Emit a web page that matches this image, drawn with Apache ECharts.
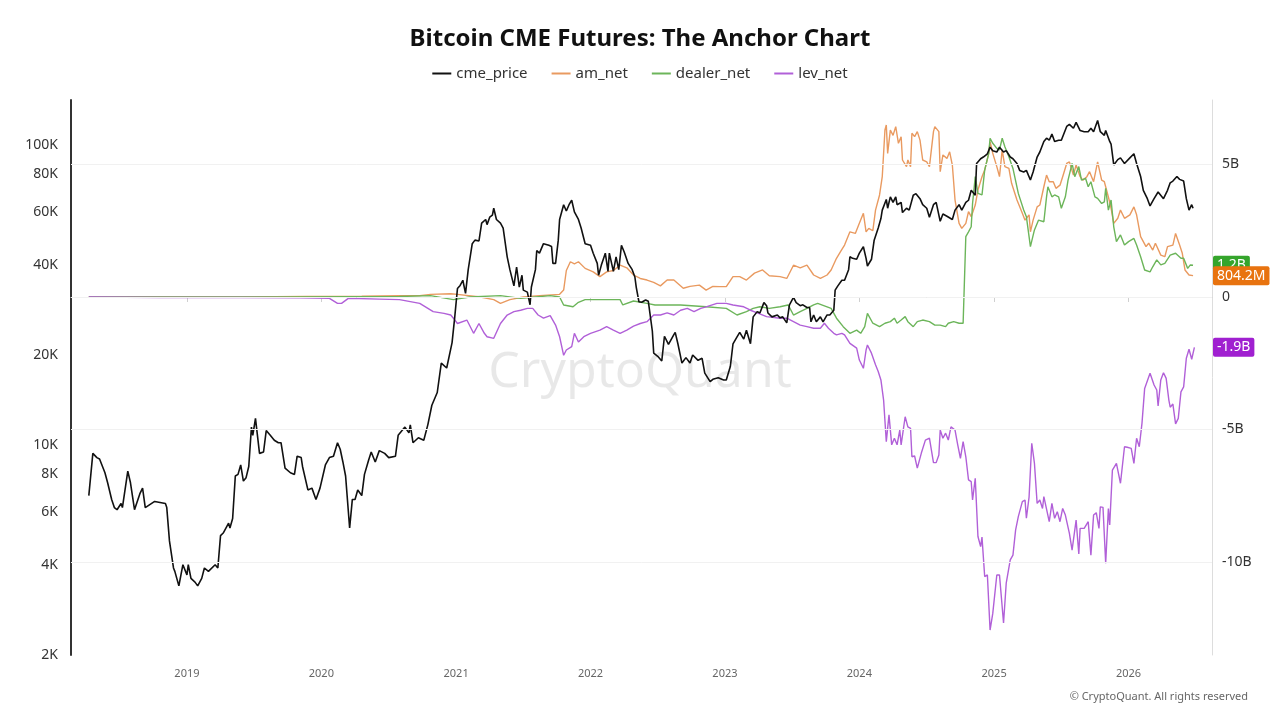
<!DOCTYPE html>
<html>
<head>
<meta charset="utf-8">
<script src="https://cdn.jsdelivr.net/npm/echarts@6/dist/echarts.min.js"></script>
<style>html,body{margin:0;padding:0;background:#fff}#chart{width:1280px;height:720px}</style>
</head>
<body>
<div id="chart"></div>
<script>
// ---- data (times in decimal years) ----
const priceDates = [
2018.27,2018.30,2018.33,2018.35,2018.39,2018.41,2018.44,2018.46,2018.48,2018.51,
2018.52,2018.56,2018.58,2018.61,2018.65,2018.67,2018.69,2018.76,2018.80,2018.84,
2018.85,2018.87,2018.90,2018.91,2018.94,2018.97,2019.00,2019.01,2019.03,2019.06,
2019.08,2019.11,2019.13,2019.16,2019.21,2019.23,2019.25,2019.27,2019.31,2019.32,
2019.34,2019.36,2019.38,2019.40,2019.42,2019.44,2019.46,2019.48,2019.49,2019.51,
2019.54,2019.57,2019.59,2019.62,2019.65,2019.68,2019.70,2019.73,2019.77,2019.80,
2019.82,2019.85,2019.86,2019.90,2019.93,2019.96,2019.99,2020.03,2020.06,2020.09,
2020.12,2020.14,2020.16,2020.18,2020.21,2020.23,2020.25,2020.27,2020.30,2020.32,
2020.35,2020.37,2020.40,2020.43,2020.47,2020.50,2020.55,2020.57,2020.62,2020.65,
2020.66,2020.68,2020.72,2020.76,2020.79,2020.82,2020.86,2020.89,2020.93,2020.97,
2020.99,2021.01,2021.03,2021.05,2021.07,2021.09,2021.12,2021.14,2021.17,2021.19,
2021.22,2021.23,2021.25,2021.27,2021.28,2021.30,2021.33,2021.35,2021.38,2021.40,
2021.43,2021.45,2021.47,2021.49,2021.50,2021.53,2021.55,2021.56,2021.59,2021.60,
2021.62,2021.65,2021.69,2021.71,2021.72,2021.74,2021.76,2021.77,2021.80,2021.82,
2021.84,2021.86,2021.88,2021.91,2021.93,2021.96,2022.00,2022.02,2022.05,2022.06,
2022.08,2022.11,2022.13,2022.14,2022.17,2022.19,2022.21,2022.23,2022.25,2022.28,
2022.31,2022.33,2022.34,2022.36,2022.38,2022.41,2022.43,2022.46,2022.47,2022.50,
2022.53,2022.55,2022.58,2022.62,2022.63,2022.65,2022.68,2022.71,2022.74,2022.76,
2022.80,2022.83,2022.85,2022.89,2022.91,2022.95,2022.99,2023.01,2023.04,2023.06,
2023.09,2023.11,2023.14,2023.16,2023.19,2023.21,2023.24,2023.26,2023.29,2023.31,
2023.32,2023.35,2023.39,2023.41,2023.43,2023.46,2023.48,2023.51,2023.53,2023.56,
2023.58,2023.61,2023.63,2023.64,2023.66,2023.68,2023.71,2023.73,2023.76,2023.78,
2023.81,2023.82,2023.84,2023.87,2023.89,2023.92,2023.93,2023.95,2023.98,2024.00,
2024.03,2024.05,2024.06,2024.09,2024.11,2024.14,2024.16,2024.17,2024.20,2024.21,
2024.23,2024.25,2024.27,2024.28,2024.31,2024.32,2024.35,2024.37,2024.40,2024.42,
2024.45,2024.47,2024.50,2024.52,2024.55,2024.57,2024.60,2024.62,2024.65,2024.69,
2024.71,2024.74,2024.76,2024.79,2024.81,2024.83,2024.86,2024.87,2024.90,2024.92,
2024.95,2024.97,2024.99,2025.02,2025.04,2025.07,2025.09,2025.12,2025.14,2025.17,
2025.19,2025.22,2025.24,2025.27,2025.29,2025.32,2025.34,2025.37,2025.39,2025.41,
2025.43,2025.45,2025.48,2025.50,2025.54,2025.56,2025.59,2025.61,2025.64,2025.67,
2025.70,2025.72,2025.74,2025.77,2025.79,2025.82,2025.83,2025.86,2025.87,2025.89,
2025.92,2025.94,2025.97,2026.01,2026.04,2026.06,2026.09,2026.11,2026.14,2026.16,
2026.19,2026.22,2026.26,2026.29,2026.31,2026.33,2026.36,2026.38,2026.41,2026.43,
2026.45,2026.47,2026.48
];
// cme_price, thousands of USD
const priceValues = [
6.8,9.4,9.1,9.0,8.1,7.5,6.6,6.2,6.1,6.4,
6.2,8.2,7.5,6.1,6.9,7.2,6.2,6.5,6.45,6.4,
6.2,4.8,3.9,3.8,3.4,4.0,3.7,4.0,3.6,3.5,
3.4,3.6,3.9,3.8,4.0,3.9,5.0,5.1,5.5,5.3,
5.7,7.9,8.0,8.6,7.6,7.8,8.5,11.5,10.8,12.3,
9.4,9.5,11.2,10.8,10.4,10.2,10.2,8.4,8.1,8.0,
9.2,9.1,8.5,7.1,7.2,6.6,7.2,8.6,9.1,9.2,
10.2,9.7,8.8,7.9,5.3,6.6,6.6,7.1,6.8,8.0,
8.9,9.5,8.8,9.6,9.4,9.1,9.2,10.8,11.5,11.0,
11.7,10.2,10.6,10.4,11.7,13.6,15.0,18.8,18.1,22,
26.8,33.3,34.1,35.5,32.1,38.5,47,48.3,48,55,
56.6,54.4,57.6,58.5,61.7,56.6,55,53,42.5,38.5,
34,39.3,33.7,36.9,32.9,32.4,29.4,33.7,38.5,44.6,
43.7,47,46.4,46,40.4,40.4,48.3,56.6,63.4,60.4,
63.4,65.6,60,56.6,53,47,46.4,43.7,40.4,36.9,
39.8,43.7,38,43.7,38,42.5,38.5,46.4,44.2,40.4,
38.5,36.4,33.7,30.1,30,30.5,30.2,24,20.3,19.8,
19.1,23.1,21.7,23.4,23.8,21.8,18.8,19.6,18.8,20,
19.2,19.5,17.4,16.3,16.6,16.8,16.5,16.5,18.3,21.8,
23,23.8,22.6,24.2,21.8,26.8,27.9,27.6,29.9,29.2,
27.6,26.8,27.2,26.6,26.8,25.6,29.4,31.1,29.9,29.2,
29.4,28.8,28.8,25.8,27.2,25.8,26.8,25.8,27.2,27.2,
28.2,32.9,34,35.5,35.5,38.5,42.5,42,41.7,43.7,
45.9,42,39.6,41.7,48.3,53,57,60.8,66,61.7,
67.3,64.5,67.3,63.4,64.5,59.7,61.7,60.8,68.2,69,
66.4,63.4,61.7,57.6,63.4,64.5,55.8,59,58,56.6,
60.8,63.4,60.8,64.5,65.6,70.8,68.2,87,90.2,91.4,
93.7,98.6,96,95,98.6,95,96,91.4,90.2,87,
82.5,81.5,82.5,76.6,81.5,91.4,95,103,105.6,104,
109,103,104,104,115.6,117.4,114,119.3,112,111,
111,114,111,121,111,108,112,103,101,86,
89.6,90.8,87,90.8,93.7,87,78.7,70.8,66.4,62.8,
66.4,69.9,66.4,70.8,75,76,78.7,77,76,66.4,
60.8,63.4,61.7
];

const amDates = [
2018.27,2018.80,2019.40,2019.90,2020.30,2020.58,2020.73,2020.81,2020.96,2021.01,
2021.18,2021.28,2021.33,2021.40,2021.50,2021.62,2021.77,2021.80,2021.82,2021.85,
2021.88,2021.91,2021.96,2022.02,2022.07,2022.12,2022.17,2022.22,2022.27,2022.32,
2022.37,2022.42,2022.47,2022.52,2022.57,2022.62,2022.69,2022.74,2022.81,2022.86,
2022.91,2022.96,2023.01,2023.06,2023.11,2023.16,2023.22,2023.28,2023.33,2023.41,
2023.46,2023.51,2023.56,2023.61,2023.66,2023.71,2023.76,2023.79,2023.83,2023.86,
2023.89,2023.93,2023.97,2024.00,2024.03,2024.05,2024.07,2024.10,2024.12,2024.15,
2024.17,2024.19,2024.20,2024.21,2024.23,2024.25,2024.27,2024.29,2024.31,2024.32,
2024.35,2024.36,2024.38,2024.39,2024.41,2024.43,2024.45,2024.47,2024.50,2024.52,
2024.55,2024.56,2024.59,2024.60,2024.62,2024.65,2024.67,2024.69,2024.71,2024.74,
2024.76,2024.79,2024.81,2024.83,2024.86,2024.88,2024.91,2024.93,2024.96,2024.97,
2024.99,2025.02,2025.04,2025.06,2025.08,2025.11,2025.13,2025.17,2025.21,2025.23,
2025.26,2025.27,2025.29,2025.32,2025.34,2025.37,2025.39,2025.41,2025.44,2025.46,
2025.49,2025.51,2025.54,2025.56,2025.59,2025.61,2025.64,2025.66,2025.69,2025.71,
2025.74,2025.77,2025.80,2025.82,2025.85,2025.87,2025.89,2025.92,2025.94,2025.97,
2026.01,2026.04,2026.06,2026.09,2026.13,2026.15,2026.18,2026.20,2026.24,2026.27,
2026.29,2026.33,2026.35,2026.38,2026.40,2026.42,2026.45,2026.48
];
// am_net, billions of USD
const amValues = [
0,0,0,0.02,0.03,0.05,0.05,0.1,0.12,0.1,
0,-0.1,-0.24,-0.1,0,0.05,0.1,0.26,1.0,1.33,
1.25,1.33,1.08,0.95,0.77,0.95,1.0,1.2,1.1,0.83,
0.7,0.64,0.55,0.42,0.64,0.64,0.33,0.4,0.45,0.26,
0.4,0.39,0.39,0.77,0.77,0.64,0.9,1.02,0.8,0.77,
0.7,1.2,1.1,1.2,0.83,0.7,0.83,1.02,1.46,1.71,
1.96,2.46,2.4,2.78,3.16,2.46,2.59,2.5,3.28,3.85,
4.54,6.3,6.49,5.42,6.3,6.1,6.43,5.8,6.05,5.17,
4.92,5.17,4.92,6.18,6.05,6.24,5.92,5.17,5.1,4.92,
6.24,6.43,6.24,4.73,5.36,5.23,5.48,4.98,3.66,2.78,
2.59,2.78,3.22,3.03,3.47,4.04,4.54,4.79,5.42,5.86,
5.42,4.92,4.54,5.55,4.92,4.85,4.29,3.66,3.16,2.9,
3.1,2.46,2.9,3.4,3.47,4.16,4.6,4.35,4.35,4.1,
4.22,4.54,5.04,5.1,4.6,4.98,4.54,4.41,4.54,4.73,
4.35,5.1,4.41,4.35,3.78,3.35,2.78,2.97,3.28,2.97,
3.1,3.4,3.1,2.28,1.9,2.03,1.77,2.03,1.58,1.52,
1.9,1.96,2.4,1.96,1.65,1.02,0.83,0.8042
];

const dealerDates = [
2018.27,2019.00,2019.80,2020.58,2020.81,2020.98,2021.10,2021.33,2021.48,2021.55,
2021.70,2021.77,2021.80,2021.87,2021.91,2021.96,2022.07,2022.22,2022.24,2022.32,
2022.42,2022.48,2022.67,2022.86,2023.01,2023.09,2023.16,2023.21,2023.26,2023.33,
2023.41,2023.47,2023.51,2023.56,2023.61,2023.66,2023.69,2023.76,2023.79,2023.83,
2023.88,2023.93,2023.98,2024.01,2024.04,2024.06,2024.10,2024.15,2024.19,2024.23,
2024.26,2024.28,2024.31,2024.34,2024.36,2024.40,2024.43,2024.47,2024.52,2024.56,
2024.60,2024.64,2024.66,2024.70,2024.74,2024.77,2024.79,2024.81,2024.83,2024.84,
2024.86,2024.88,2024.91,2024.93,2024.96,2024.97,2024.99,2025.02,2025.04,2025.06,
2025.08,2025.11,2025.14,2025.18,2025.22,2025.24,2025.27,2025.30,2025.33,2025.37,
2025.39,2025.40,2025.43,2025.45,2025.48,2025.50,2025.53,2025.55,2025.58,2025.60,
2025.63,2025.65,2025.68,2025.70,2025.72,2025.75,2025.77,2025.80,2025.82,2025.83,
2025.85,2025.87,2025.89,2025.91,2025.94,2025.97,2026.00,2026.04,2026.06,2026.09,
2026.12,2026.16,2026.18,2026.21,2026.24,2026.27,2026.31,2026.35,2026.39,2026.41,
2026.44,2026.46,2026.48
];
// dealer_net, billions of USD
const dealerValues = [
0,0,0,0.02,0.05,-0.1,0,0.05,-0.05,-0.02,
0.05,0,-0.3,-0.37,-0.2,-0.1,-0.1,-0.1,-0.3,-0.15,
-0.24,-0.3,-0.3,-0.37,-0.43,-0.68,-0.55,-0.43,-0.37,-0.43,
-0.37,-0.3,-0.68,-0.55,-0.43,-0.3,-0.24,-0.37,-0.43,-0.8,
-1.12,-1.37,-1.25,-1.37,-1.12,-0.62,-0.99,-1.12,-0.99,-0.93,
-0.8,-0.99,-0.87,-0.74,-0.93,-1.12,-0.93,-0.87,-0.93,-1.06,
-1.06,-1.12,-0.99,-0.93,-0.99,-0.99,2.28,2.46,2.65,3.53,
4.54,3.91,3.85,4.79,5.42,5.99,5.8,5.61,5.55,5.99,
5.67,5.29,4.85,3.91,3.28,3.03,1.9,2.53,2.9,2.84,
3.78,4.16,3.78,3.85,3.78,3.35,3.78,4.41,5.04,4.54,
4.92,4.41,4.48,4.16,4.35,3.78,3.72,3.53,3.59,4.1,
3.28,3.66,2.65,2.09,2.34,1.96,2.09,2.21,1.96,1.52,
1.02,0.95,1.14,1.4,1.21,1.27,1.58,1.65,1.46,1.46,
1.08,1.21,1.2
];

const levDates = [
2018.27,2018.80,2019.40,2019.84,2020.06,2020.12,2020.15,2020.20,2020.43,2020.58,
2020.73,2020.83,2020.91,2020.96,2020.98,2021.01,2021.02,2021.08,2021.13,2021.17,
2021.21,2021.23,2021.28,2021.33,2021.38,2021.43,2021.48,2021.53,2021.57,2021.61,
2021.65,2021.70,2021.74,2021.77,2021.80,2021.82,2021.86,2021.88,2021.91,2021.95,
2022.00,2022.07,2022.12,2022.17,2022.22,2022.27,2022.32,2022.37,2022.42,2022.47,
2022.52,2022.57,2022.62,2022.67,2022.72,2022.77,2022.82,2022.86,2022.94,2023.01,
2023.06,2023.14,2023.19,2023.24,2023.31,2023.41,2023.46,2023.51,2023.56,2023.61,
2023.66,2023.71,2023.74,2023.77,2023.81,2023.83,2023.87,2023.89,2023.93,2023.98,
2024.00,2024.03,2024.05,2024.06,2024.09,2024.10,2024.12,2024.14,2024.16,2024.18,
2024.20,2024.22,2024.24,2024.26,2024.28,2024.30,2024.31,2024.34,2024.36,2024.38,
2024.39,2024.41,2024.43,2024.46,2024.49,2024.52,2024.55,2024.57,2024.59,2024.60,
2024.62,2024.64,2024.66,2024.68,2024.71,2024.73,2024.75,2024.77,2024.79,2024.81,
2024.83,2024.84,2024.86,2024.88,2024.90,2024.91,2024.93,2024.95,2024.97,2024.99,
2025.02,2025.04,2025.07,2025.09,2025.12,2025.14,2025.16,2025.18,2025.21,2025.23,
2025.24,2025.26,2025.28,2025.30,2025.32,2025.34,2025.36,2025.37,2025.41,2025.43,
2025.45,2025.47,2025.49,2025.51,2025.53,2025.56,2025.58,2025.61,2025.63,2025.64,
2025.67,2025.68,2025.70,2025.72,2025.74,2025.76,2025.78,2025.79,2025.81,2025.83,
2025.85,2025.86,2025.88,2025.91,2025.94,2025.97,2025.99,2026.02,2026.04,2026.06,
2026.08,2026.10,2026.12,2026.16,2026.19,2026.21,2026.22,2026.24,2026.26,2026.28,
2026.30,2026.31,2026.33,2026.35,2026.37,2026.39,2026.41,2026.43,2026.45,2026.47,
2026.49
];
// lev_net, billions of USD
const levValues = [
0,-0.02,-0.02,-0.03,-0.05,-0.24,-0.24,-0.05,-0.08,-0.1,
-0.24,-0.55,-0.62,-0.68,-0.8,-1.0,-1.06,-0.87,-1.37,-1.0,
-1.37,-1.5,-1.56,-1.0,-0.68,-0.55,-0.5,-0.43,-0.43,-0.68,
-0.8,-0.7,-1.06,-1.5,-2.2,-2.0,-1.87,-1.37,-1.7,-1.5,
-1.37,-1.25,-1.12,-1.25,-1.37,-1.25,-1.1,-1.0,-0.93,-0.68,
-0.68,-0.6,-0.68,-0.5,-0.43,-0.55,-0.43,-0.37,-0.24,-0.24,
-0.3,-0.37,-0.5,-0.6,-0.74,-0.8,-0.8,-0.93,-1.06,-1.12,
-1.18,-1.18,-0.99,-1.18,-1.37,-1.43,-1.37,-1.43,-1.75,-1.93,
-2.38,-2.69,-2.0,-1.81,-2.12,-2.12,-2.56,-2.81,-3.13,-3.89,
-5.46,-4.45,-5.58,-5.33,-5.58,-5.02,-5.58,-4.52,-4.9,-4.96,
-6.03,-6.0,-6.46,-5.89,-5.4,-5.33,-6.25,-6.25,-5.96,-5.02,
-5.33,-5.14,-5.4,-4.9,-5.02,-5.58,-6.09,-5.46,-6.03,-6.9,
-6.97,-7.66,-6.84,-9.04,-9.42,-9.06,-10.55,-10.49,-12.57,-11.94,
-10.49,-10.49,-12.3,-10.8,-9.92,-9.74,-8.79,-8.29,-7.72,-7.66,
-8.35,-7.55,-5.52,-6.28,-7.79,-7.66,-7.98,-7.53,-8.48,-7.79,
-8.35,-8.1,-8.48,-7.98,-8.23,-8.92,-9.55,-8.42,-9.7,-8.73,
-8.73,-8.67,-8.48,-9.74,-8.23,-8.14,-8.73,-7.92,-7.94,-10.05,
-7.98,-8.6,-6.53,-6.28,-7.03,-5.65,-5.67,-5.71,-6.28,-5.33,
-5.65,-4.77,-3.45,-2.88,-3.32,-3.51,-4.11,-3.13,-2.86,-3.07,
-3.89,-4.16,-4.04,-4.79,-4.58,-3.58,-3.39,-2.31,-1.97,-2.35,
-1.9
];

// axis ticks
const priceTickValues = [2,4,6,8,10,20,40,60,80,100];
const priceTickLabels = ['2K','4K','6K','8K','10K','20K','40K','60K','80K','100K'];
const netTickValues = [-10,-5,0,5];

// ---- helpers ----
function toTs(d){
  const y = Math.floor(d);
  const a = new Date(y,0,1).getTime();
  const b = new Date(y+1,0,1).getTime();
  return a + (d - y) * (b - a);
}
function zip(ts, vs){ return ts.map((t,i) => [toTs(t), vs[i]]); }
function fmtNet(v){ return Math.abs(v) >= 1 ? v.toFixed(1) + 'B' : (v*1000).toFixed(1) + 'M'; }
const last = a => a[a.length-1];

const COL = {price:'#111111', am:'#e99a60', dealer:'#6cb55a', lev:'#b160d8'};
const BOX = {am:'#e8730f', dealer:'#35a52c', lev:'#a020d0'};

const chart = echarts.init(document.getElementById('chart'));
const option = {
  animation: false,
  backgroundColor: '#fff',
  textStyle: {fontFamily: 'Noto Sans'},
  title: {
    text: 'Bitcoin CME Futures: The Anchor Chart',
    left: 'center', top: 22,
    textStyle: {fontSize: 24, fontWeight: 'bold', color: '#111', fontFamily: 'Noto Sans'}
  },
  legend: {
    top: 61, left: 'center', icon: 'rect', itemWidth: 19, itemHeight: 2, itemGap: 24,
    textStyle: {fontSize: 15, color: '#333'},
    data: ['cme_price','am_net','dealer_net','lev_net']
  },
  grid: {left: 71, right: 68, top: 100, bottom: 65},
  xAxis: {
    type: 'time',
    min: toTs(2018.1375), max: toTs(2026.621),
    splitNumber: 8,
    minInterval: 365 * 24 * 3600 * 1000,
    axisLine: {lineStyle: {color: '#d0d0d0'}},
    axisTick: {show: true, length: 5, lineStyle: {color: '#d0d0d0'}},
    splitLine: {show: false},
    axisLabel: {
      color: '#666', fontSize: 11, margin: 13,
      formatter: function(v){
        const d = new Date(v);
        return (d.getMonth() === 0 && d.getDate() === 1) ? String(d.getFullYear()) : '';
      }
    }
  },
  yAxis: [
    {
      type: 'log', logBase: 10, min: 2, max: 141.6, position: 'left',
      axisLine: {show: true, onZero: false, lineStyle: {color: '#333', width: 2}},
      axisTick: {show: false}, axisLabel: {show: false}, splitLine: {show: false}
    },
    {
      type: 'value', min: -13.51, max: 7.434, position: 'right',
      axisLine: {show: true, onZero: false, lineStyle: {color: '#dddddd'}},
      axisTick: {show: false}, splitLine: {show: false},
      axisLabel: {
        color: '#333', fontSize: 14, margin: 10,
        formatter: function(v){
          const r = Math.round(v / 5) * 5;
          if (Math.abs(v - r) > 1e-6) return '';
          return r === 0 ? '0' : r + 'B';
        }
      }
    }
  ],
  graphic: [
    {type: 'text', left: 'center', top: 348, z: -10, silent: true,
     style: {text: 'CryptoQuant', fontSize: 50, fontFamily: 'Noto Sans', fill: 'rgba(0,0,0,0.09)'}},
    {type: 'text', right: 32, top: 691, silent: true,
     style: {text: '© CryptoQuant. All rights reserved', fontSize: 11, fontFamily: 'Noto Sans', fill: '#666'}}
  ],
  series: [
    {
      name: 'gridlines', type: 'line', yAxisIndex: 1, data: [], z: 1, silent: true,
      markLine: {
        silent: true, symbol: 'none', animation: false,
        lineStyle: {color: '#f1f1f1', width: 1, type: 'solid'},
        label: {show: false},
        data: netTickValues.map(v => ({yAxis: v}))
      }
    },
    {
      name: 'cme_price', type: 'line', yAxisIndex: 0, symbol: 'none', z: 4,
      lineStyle: {color: COL.price, width: 1.6}, itemStyle: {color: COL.price},
      data: zip(priceDates, priceValues),
      markLine: {
        silent: true, symbol: 'none', animation: false,
        lineStyle: {color: 'transparent', width: 0},
        label: {show: true, position: 'start', distance: 13, color: '#333', fontSize: 14},
        data: priceTickValues.map((v,i) => ({yAxis: v, label: {formatter: priceTickLabels[i]}}))
      }
    },
    {
      name: 'am_net', type: 'line', yAxisIndex: 1, symbol: 'none', z: 3,
      lineStyle: {color: COL.am, width: 1.4}, itemStyle: {color: COL.am},
      data: zip(amDates, amValues)
    },
    {
      name: 'dealer_net', type: 'line', yAxisIndex: 1, symbol: 'none', z: 3,
      lineStyle: {color: COL.dealer, width: 1.4}, itemStyle: {color: COL.dealer},
      data: zip(dealerDates, dealerValues)
    },
    {
      name: 'lev_net', type: 'line', yAxisIndex: 1, symbol: 'none', z: 3,
      lineStyle: {color: COL.lev, width: 1.4}, itemStyle: {color: COL.lev},
      data: zip(levDates, levValues),
      markLine: {
        silent: true, symbol: 'none', animation: false,
        lineStyle: {color: 'transparent', width: 0},
        label: {show: true, position: 'end', distance: 1, color: '#fff', fontSize: 14,
                padding: [3, 4, 2, 4], borderRadius: 2},
        data: [
          {yAxis: last(dealerValues), label: {backgroundColor: BOX.dealer, formatter: fmtNet(last(dealerValues))}},
          {yAxis: last(amValues), label: {backgroundColor: BOX.am, formatter: fmtNet(last(amValues))}},
          {yAxis: last(levValues), label: {backgroundColor: BOX.lev, formatter: fmtNet(last(levValues))}}
        ]
      }
    }
  ]
};
chart.setOption(option);
</script>
</body>
</html>
